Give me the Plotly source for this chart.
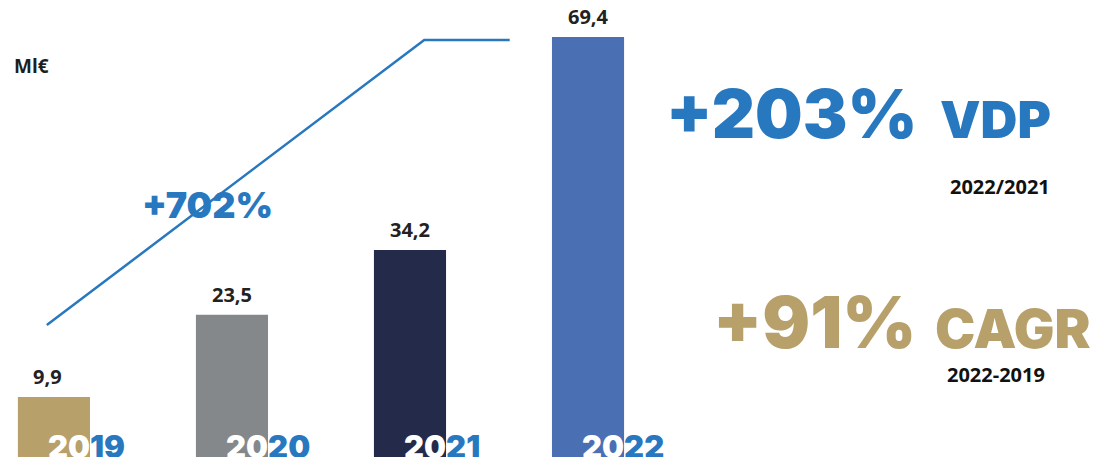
import plotly.graph_objects as go

years = ["2019", "2020", "2021", "2022"]
values = [9.9, 23.5, 34.2, 69.4]
value_labels = ["9,9", "23,5", "34,2", "69,4"]
bar_colors = ["#b8a06b", "#85888b", "#232a4a", "#4a6fb3"]

growth_label = "+702%"
connector_x = [-0.04, 2.08, 2.56]
connector_y = [21.8, 68.9, 68.9]

BLUE = "#2878c0"
GOLD = "#b8a06b"
HEAVY = "Inter, DejaVu Sans"
LABEL = "Open Sans"

x = list(range(len(years)))

fig = go.Figure()
fig.add_trace(go.Bar(x=x, y=values, marker=dict(color=bar_colors, line=dict(width=0)),
                     width=0.405, hoverinfo="skip"))
fig.add_trace(go.Scatter(x=connector_x, y=connector_y, mode="lines",
                         line=dict(color=BLUE, width=2.5), hoverinfo="skip"))

ann = []
for i, (v, lab) in enumerate(zip(values, value_labels)):
    ann.append(dict(x=i, y=v, xref="x", yref="y", text=lab, showarrow=False,
                    yanchor="bottom", yshift=5, xshift=-6 if i == 0 else 0,
                    font=dict(family=LABEL, size=20, weight=700, color="#222222")))
for i, yr in enumerate(years):
    ann.append(dict(x=i, y=0, xref="x", yref="y",
                    text=f"<span style='color:white'>{yr[:2]}</span>{yr[2:]}",
                    showarrow=False, xanchor="left", yanchor="bottom", xshift=-8, yshift=-10,
                    font=dict(family=HEAVY, size=31, weight=900, color=BLUE)))

ann += [
    dict(x=12, y=66, text="Ml€", showarrow=False,
         xanchor="left", yanchor="middle", font=dict(family=LABEL, size=19, weight=700, color="#1e1e1e")),
    dict(x=140, y=205, text=growth_label, showarrow=False, xanchor="left",
         yanchor="middle", font=dict(family=HEAVY, size=36, weight=900, color=BLUE)),
    dict(x=664, y=113, text="+203%", showarrow=False, xanchor="left", yanchor="middle",
         font=dict(family=HEAVY, size=67, weight=900, color=BLUE)),
    dict(x=938, y=119, text="VDP", showarrow=False, xanchor="left", yanchor="middle",
         font=dict(family=HEAVY, size=51, weight=900, color=BLUE)),
    dict(x=1000, y=186, text="2022/2021", showarrow=False, xanchor="center",
         yanchor="middle", font=dict(family=LABEL, size=20, weight=700, color="#111111")),
    dict(x=711, y=322, text="+91%", showarrow=False, xanchor="left", yanchor="middle",
         font=dict(family=HEAVY, size=71, weight=900, color=GOLD)),
    dict(x=933, y=328, text="CAGR", showarrow=False, xanchor="left", yanchor="middle",
         font=dict(family=HEAVY, size=54, weight=900, color=GOLD)),
    dict(x=996, y=374, text="2022-2019", showarrow=False, xanchor="center",
         yanchor="middle", font=dict(family=LABEL, size=20, weight=700, color="#111111")),
]
W, H = 1105, 457
for a in ann:
    if "xref" not in a:
        a["xref"] = "paper"
        a["yref"] = "paper"
        a["x"] = a["x"] / W
        a["y"] = 1 - a["y"] / H

fig.update_layout(
    width=W, height=H, margin=dict(l=0, r=0, t=0, b=0),
    paper_bgcolor="white", plot_bgcolor="white", showlegend=False,
    xaxis=dict(range=[-0.303, 5.904], visible=False, fixedrange=True),
    yaxis=dict(range=[0, 75.5], visible=False, fixedrange=True),
    annotations=ann,
)
fig.write_html("out.html", config={"displayModeBar": False})
